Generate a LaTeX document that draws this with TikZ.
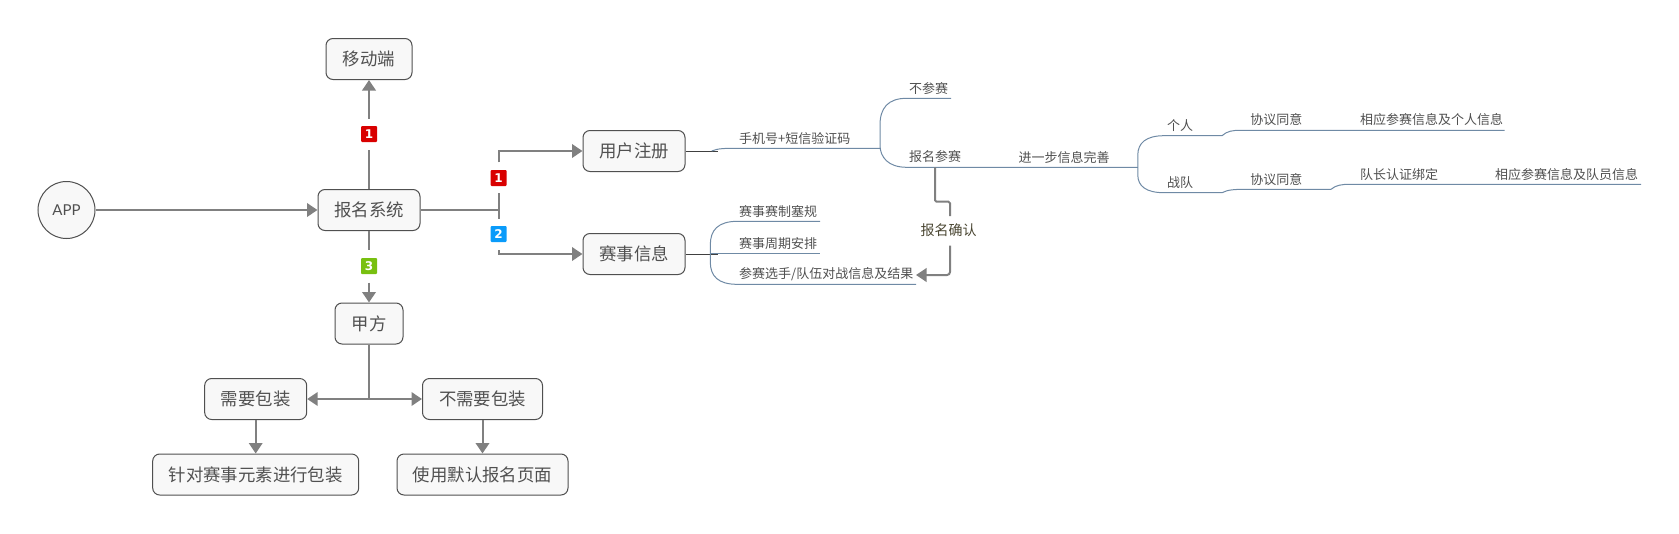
\documentclass[tikz,border=0pt]{standalone}
\usepackage{fontspec}
\setmainfont{Noto Sans CJK SC}
\newfontfamily\latinfont{Lato}
\newfontfamily\badgefont{DejaVu Sans}
\usetikzlibrary{arrows.meta,calc}
\definecolor{linegray}{HTML}{808080}
\definecolor{branchblue}{HTML}{6F8AA5}
\definecolor{boxfill}{HTML}{F8F8F8}
\definecolor{boxline}{HTML}{505050}
\definecolor{txt}{HTML}{505050}
\definecolor{oktxt}{HTML}{4A4632}
\definecolor{bred}{HTML}{D90000}
\definecolor{bblue}{HTML}{0A9BFA}
\definecolor{bgreen}{HTML}{78C010}
\tikzset{
  x=1pt,y=-1pt,
  box/.style={draw=boxline,fill=boxfill,line width=1pt,rounded corners=7pt,inner sep=0pt,text=txt,font=\fontsize{17.4}{20}\selectfont,minimum height=41pt},
  leaf/.style={inner sep=0pt,text=txt,font=\fontsize{13}{15}\selectfont,anchor=west},
  badge/.style={fill=#1,rounded corners=1pt,inner sep=0pt,minimum width=16pt,minimum height=16pt,text=white,font=\badgefont\bfseries\fontsize{12}{12}\selectfont},
  conn/.style={draw=linegray,line width=2pt},
  arr/.style={conn,-{Triangle[length=10.5pt,width=13.5pt]}},
  branch/.style={draw=branchblue,line width=1pt},
  stem/.style={draw=black!75,line width=1pt}
}
\begin{document}
\begin{tikzpicture}
\useasboundingbox (0,0) rectangle (1679,533);
% main nodes
\node[draw=boxline,fill=boxfill,line width=1pt,circle,minimum size=57pt,inner sep=0pt,text=txt,font=\latinfont\fontsize{15}{17}\selectfont] (app) at (66.5,210) {APP};
\node[box,minimum width=102pt] (sys) at (369,210) {报名系统};
\node[box,minimum width=86pt] (mob) at (369,59) {移动端};
\node[box,minimum width=68pt] (jia) at (369,323.5) {甲方};
\node[box,minimum width=102pt] (need) at (255.7,399) {需要包装};
\node[box,minimum width=120pt] (noneed) at (482.5,399) {不需要包装};
\node[box,minimum width=206pt] (pack) at (255.7,474.5) {针对赛事元素进行包装};
\node[box,minimum width=171pt] (def) at (482.5,474.5) {使用默认报名页面};
\node[box,minimum width=102pt] (reg) at (634,151) {用户注册};
\node[box,minimum width=102pt] (info) at (634,254) {赛事信息};
% badges
\node[badge=bred] (b1) at (369,134) {1};
\node[badge=bgreen] (b3) at (369,266) {3};
\node[badge=bred] (c1) at (498.5,178) {1};
\node[badge=bblue] (c2) at (498.5,234) {2};
% left connectors
\draw[arr] (app) -- (sys);
\draw[conn,shorten >=8pt] (sys.north) -- (b1.south);
\draw[arr,shorten <=7pt] (b1.north) -- (mob.south);
\draw[conn,shorten >=7.5pt] (sys.south) -- (b3.north);
\draw[arr,shorten <=8.5pt] (b3.south) -- (jia.north);
\coordinate (jun) at (369,399);
\coordinate (rfork) at (499,210);
\draw[conn] (jia.south) -- (jun);
\draw[arr] (jun) -- (need.east);
\draw[arr] (jun) -- (noneed.west);
\draw[arr] (need.south) -- (pack.north);
\draw[arr] (noneed.south) -- (def.north);
\draw[conn] (sys.east) -- (rfork);
\draw[conn] (499,193.3) -- (499,219);
\draw[arr] (499,162.3) |- (reg.west);
\draw[arr] (499,250) |- (info.west);
% mind-map labels
\node[leaf] (phone) at (739,138.3) {手机号+短信验证码};
\node[leaf] (no) at (909,88.3) {不参赛};
\node[leaf] (yes) at (909,156.7) {报名参赛};
\node[leaf] (more) at (1018.3,157.3) {进一步信息完善};
\node[leaf] (per) at (1167,126) {个人};
\node[leaf] (team) at (1167,183) {战队};
\node[leaf] (a1) at (1250.2,120) {协议同意};
\node[leaf] (a2) at (1360,120) {相应参赛信息及个人信息};
\node[leaf] (t1) at (1250.2,179.3) {协议同意};
\node[leaf] (t2) at (1360,174.3) {队长认证绑定};
\node[leaf] (t3) at (1495,174.3) {相应参赛信息及队员信息};
\node[leaf] (r1) at (739,211.7) {赛事赛制塞规};
\node[leaf] (r2) at (739,243.3) {赛事周期安排};
\node[leaf] (r3) at (739,274.3) {参赛选手/队伍对战信息及结果};
\node[inner sep=0pt,text=oktxt,font=\fontsize{14}{16}\selectfont] (ok) at (948.7,230.3) {报名确认};
% mind-map branches
\draw[stem] (reg.east) -- ++(32,0);
\draw[stem] (info.east) -- ++(32,0);
\draw[branch] (711.7,151) .. controls (718,148.3) and (725,148.3) .. (737.7,148.3) -- (880,148.3);
\draw[branch] (951,98.3) -- (906.7,98.3) .. controls (888,98.3) and (880,108) .. (880,125) -- (880,145) .. controls (880,157) and (888,167.3) .. (906.7,167.3) -- (1137.8,167.3);
\draw[branch] (1222,135.7) -- (1164,135.7) .. controls (1146,135.7) and (1137.8,143) .. (1137.8,155) -- (1137.8,175) .. controls (1137.8,186) and (1146,192.7) .. (1164,192.7) -- (1222,192.7) .. controls (1228,189.5) and (1235,189.3) .. (1248,189.3) -- (1331,189.3) .. controls (1336,185) and (1342,184.3) .. (1350,184.3) -- (1641,184.3);
\draw[branch] (1222,135.7) .. controls (1227,131) and (1233,130.3) .. (1240,130.3) -- (1504.5,130.3);
\draw[branch] (820,221.3) -- (737.7,221.3) .. controls (718,221.3) and (710.3,230) .. (710.3,245) -- (710.3,262) .. controls (710.3,276) and (718,284.5) .. (737.7,284.3) -- (916,284.3);
\draw[branch] (710.3,253.3) -- (820,253.3);
% confirm connector
\coordinate (yesdrop) at (935,167.3);
\coordinate (okin) at (950,216);
\coordinate (okout) at (950,245.7);
\coordinate (r3tip) at (916,275);
\draw[conn,rounded corners=1.5pt] (yesdrop) |- (950,201.7) -- (okin);
\draw[arr,rounded corners=3pt] (okout) |- (r3tip);
\end{tikzpicture}
\end{document}
